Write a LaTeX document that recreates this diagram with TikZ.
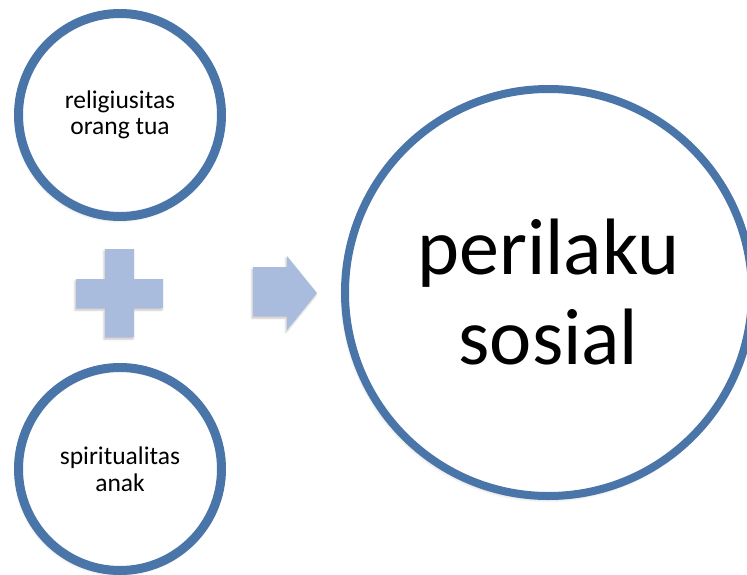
\documentclass[tikz,border=0pt]{standalone}
\usepackage{fontspec}
\setmainfont{Carlito}
\usetikzlibrary{shadows.blur}

\definecolor{ringblue}{RGB}{73,117,169}
\definecolor{signblue}{RGB}{170,188,221}

\tikzset{
  softshadow/.style={blur shadow={shadow xshift=-1.5pt, shadow yshift=-3pt,
      shadow blur radius=3.5pt, shadow opacity=30}},
  smallring/.style={circle, draw=ringblue, line width=9pt, fill=white,
      minimum size=203pt, inner sep=0pt, align=center, softshadow,
      font=\fontsize{25.5}{26.5}\selectfont},
  bigring/.style={circle, draw=ringblue, line width=8pt, fill=white,
      minimum size=407pt, inner sep=0pt, align=center, softshadow,
      font=\fontsize{80}{90}\selectfont},
  signshape/.style={fill=signblue, draw=none,
      blur shadow={shadow xshift=-1pt, shadow yshift=-2pt,
      shadow blur radius=2pt, shadow opacity=25}}
}

\begin{document}
\begin{tikzpicture}[x=1pt, y=-1pt]
  \useasboundingbox (0,0) rectangle (747,575);
  \begin{scope}
    \clip (0,0) rectangle (747,575);

    % input circles
    \node[smallring] (parents) at (120,115) {religiusitas\\orang tua};
    \node[smallring] (child) at (120,469) {spiritualitas\\anak};

    % plus sign between the inputs
    \path[signshape] (105,249) -- (134,249) -- (134,279) -- (163,279)
      -- (163,308) -- (134,308) -- (134,337) -- (105,337) -- (105,308)
      -- (76,308) -- (76,279) -- (105,279) -- cycle;

    % arrow towards the result
    \path[signshape] (253,267) -- (287,267) -- (287,256) -- (317,293)
      -- (287,330) -- (287,316) -- (253,316) -- cycle;

    % result circle
    \node[bigring] (result) at (548.5,292.5) {perilaku\\sosial};
  \end{scope}
\end{tikzpicture}
\end{document}
